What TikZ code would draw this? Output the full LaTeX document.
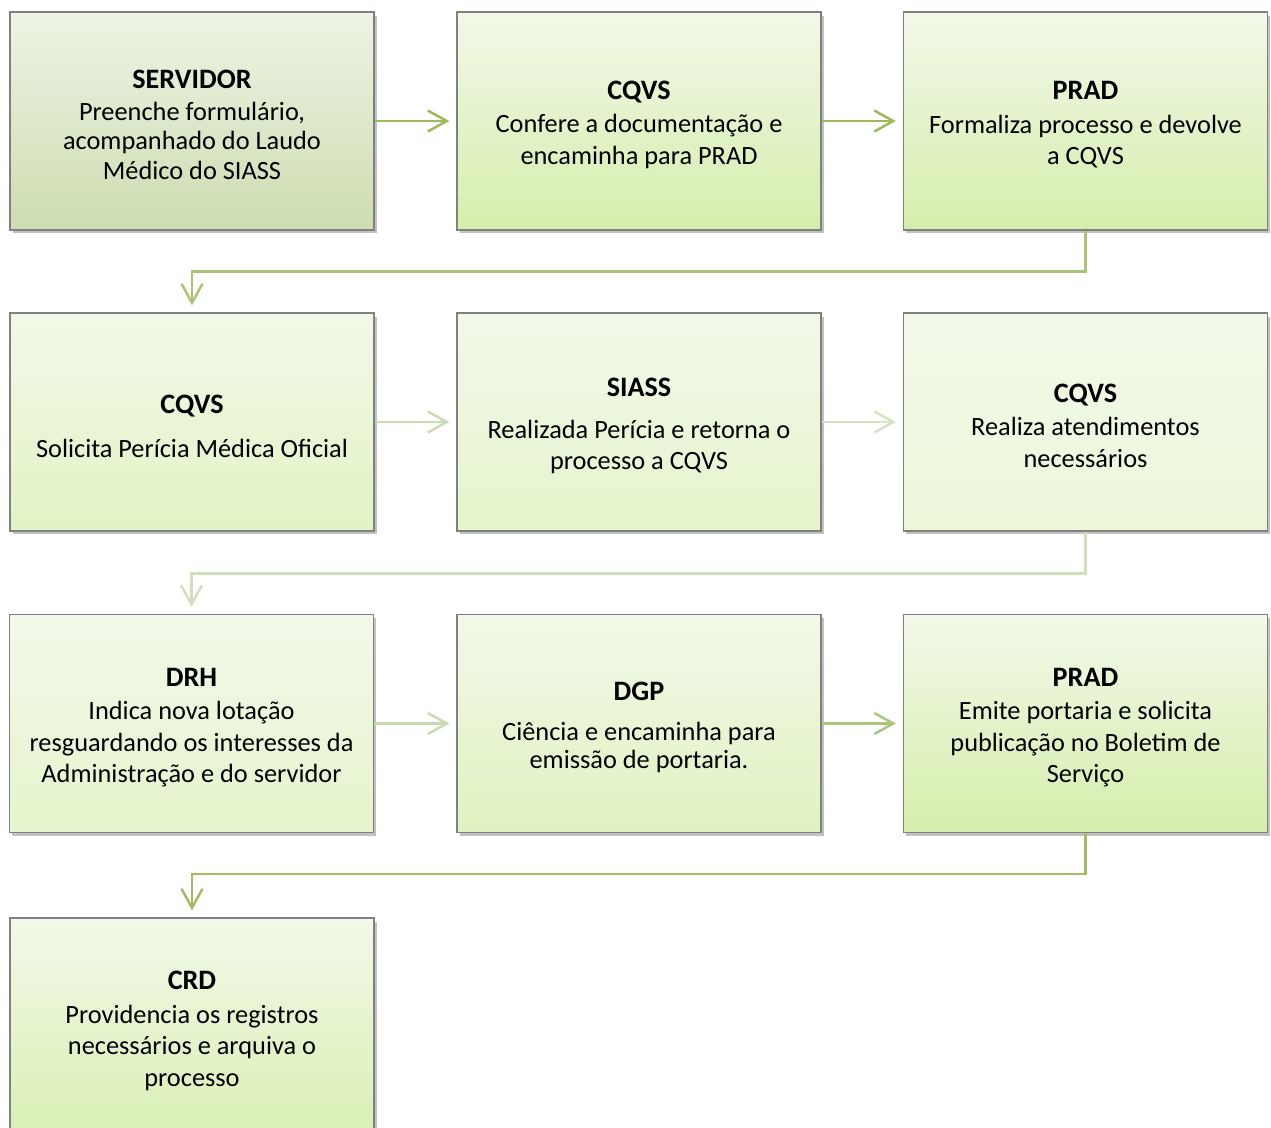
\documentclass[tikz,border=0pt]{standalone}
\usepackage{fontspec}
\setmainfont{Carlito}
\usepackage{xcolor}
\usetikzlibrary{arrows.meta,positioning,shadows}

\definecolor{boxtop}{HTML}{F2F8E9}
\definecolor{boxbot}{HTML}{D5EEAB}
\definecolor{grtop}{HTML}{EEF3E5}
\definecolor{grbot}{HTML}{CDDDB0}
\definecolor{linedark}{HTML}{9BBB59}
\definecolor{linemid}{HTML}{A9C77C}
\definecolor{linelight}{HTML}{CADDB2}
\definecolor{frame}{HTML}{808080}
\newcommand{\boxtitle}[1]{\rule{0pt}{15pt}{\fontsize{16}{18}\selectfont\bfseries #1}}

\begin{document}
\begin{tikzpicture}[x=0.02cm, y=-0.02cm,
  every node/.style={font=\fontsize{15}{18}\selectfont},
  procbox/.style={draw=frame, line width=0.8pt, align=center, inner sep=0pt,
    minimum width=7.28cm, minimum height=4.36cm, top color=boxtop, bottom color=#1,
    drop shadow={shadow xshift=1.5pt, shadow yshift=-2pt, opacity=0.35, fill=black!70}},
  procbox/.default=boxbot,
  flow/.style={line width=1.4pt, shorten >=0.14cm, -{Straight Barb[length=0.38cm, width=0.42cm]}}]
\clip (0,0) rectangle (1271,1128);
% row 1
\node[procbox=grbot, top color=grtop] (servidor) at (192,121) {\boxtitle{SERVIDOR}\\Preenche formulário,\\[-1pt]acompanhado do Laudo\\[-1pt]Médico do SIASS};
\node[procbox] (cqvsa) at (639,121) {\boxtitle{CQVS}\\[1pt]Confere a documentação e\\encaminha para PRAD};
\node[procbox] (prada) at (1085.5,121) {\boxtitle{PRAD}\\[1pt]Formaliza processo e devolve\\a CQVS};
% row 2
\node[procbox=boxbot!70!white] (cqvsb) at (192,422) {\boxtitle{CQVS}\\[7pt]Solicita Perícia Médica Oficial};
\node[procbox=boxbot!60!white] (siass) at (639,422) {\boxtitle{SIASS}\\[6pt]Realizada Perícia e retorna o\\processo a CQVS};
\node[procbox=boxbot!45!white] (cqvsc) at (1085.5,422) {\boxtitle{CQVS}\\[1pt]Realiza atendimentos\\necessários};
% row 3
\node[procbox=boxbot!60!white] (drh) at (191.5,723.5) {\boxtitle{DRH}\\[1pt]Indica nova lotação\\resguardando os interesses da\\Administração e do servidor};
\node[procbox=boxbot!75!white] (dgp) at (639,723.5) {\boxtitle{DGP}\\[5pt]Ciência e encaminha para\\[-2pt]emissão de portaria.};
\node[procbox] (pradb) at (1085.5,723.5) {\boxtitle{PRAD}\\[1pt]Emite portaria e solicita\\publicação no Boletim de\\Serviço};
% row 4
\node[procbox=boxbot!90!white] (crd) at (192,1027) {\boxtitle{CRD}\\[1pt]Providencia os registros\\necessários e arquiva o\\processo};
% connectors
\draw[flow, linedark] (servidor) -- (cqvsa);\draw[flow, linedark] (cqvsa) -- (prada);
\draw[flow, linedark!85!white] (prada.south) -- ++(0,41) -| (cqvsb.north);
\draw[flow, linelight] (cqvsb) -- (siass);\draw[flow, linelight!80!white] (siass) -- (cqvsc);
\draw[flow, linelight!90!white] (cqvsc.south) -- ++(0,42) -| (drh.north);
\draw[flow, linelight!95!linedark] (drh) -- (dgp);\draw[flow, linemid] (dgp) -- (pradb);
\draw[flow, linedark!95!white] (pradb.south) -- ++(0,41) -| (crd.north);
\end{tikzpicture}
\end{document}
